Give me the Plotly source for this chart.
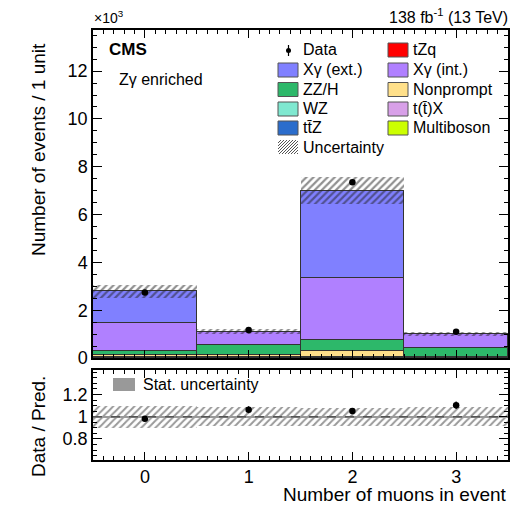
import plotly.graph_objects as go
import numpy as np

W, H = 518, 506
def px(x): return x / W
def py(y): return 1 - y / H

# ---- data (thousands of events) ----
bins = [0, 1, 2, 3]
multiboson = [0.004, 0.004, 0.01, 0.004]
ttx        = [0.004, 0.004, 0.01, 0.004]
tzq        = [0.002, 0.002, 0.005, 0.002]
ttz        = [0.004, 0.004, 0.01, 0.004]
wz         = [0.008, 0.008, 0.015, 0.008]
nonprompt  = [0.12, 0.12, 0.25, 0.015]
zzh        = [0.17, 0.39, 0.47, 0.37]
xg_int     = [1.16, 0.55, 2.58, 0.58]
xg_ext     = [1.32, 0.02, 3.65, 0.01]
data       = [2.74, 1.17, 7.35, 1.10]
unc_frac   = [0.10, 0.085, 0.08, 0.085]
stat_frac  = [0.006, 0.006, 0.006, 0.006]

components = [
    ("Multiboson", multiboson, "#CCFF00"),
    ("t(t̄)X", ttx, "#D8A0E8"),
    ("tZq", tzq, "#FF0000"),
    ("tt̄Z", ttz, "#2B6DCC"),
    ("WZ", wz, "#7FE8D0"),
    ("Nonprompt", nonprompt, "#FFE08A"),
    ("ZZ/H", zzh, "#2DB86A"),
    ("Xγ (int.)", xg_int, "#B080FF"),
    ("Xγ (ext.)", xg_ext, "#8080FF"),
]

total = np.sum([np.array(c[1]) for c in components], axis=0)
unc = total * np.array(unc_frac)
ratio = np.array(data) / total
data_err = np.sqrt(np.array(data) * 1000) / 1000
ratio_err = data_err / total

FONT = "Liberation Sans, Arial, sans-serif"
fig = go.Figure()

for name, vals, col in components:
    fig.add_trace(go.Bar(x=bins, y=vals, width=1, name=name,
                         marker=dict(color=col, line=dict(color="#333333", width=1)),
                         showlegend=False, xaxis="x", yaxis="y"))

# uncertainty hatch main
fig.add_trace(go.Bar(x=bins, y=2 * unc, base=total - unc, width=1,
                     marker=dict(color="rgba(0,0,0,0)", line=dict(width=0),
                                 pattern=dict(shape="/", fgcolor="#222222", bgcolor="rgba(0,0,0,0)",
                                              size=5, solidity=0.45, fillmode="overlay")),
                     showlegend=False, xaxis="x", yaxis="y"))

fig.add_trace(go.Scatter(x=bins, y=data, mode="markers",
                         marker=dict(color="black", size=6.5),
                         error_y=dict(type="data", array=data_err, color="black", thickness=1.2, width=0),
                         showlegend=False, xaxis="x", yaxis="y"))

# ratio panel
fig.add_trace(go.Bar(x=bins, y=2 * np.array(unc_frac), base=1 - np.array(unc_frac), width=1,
                     marker=dict(color="rgba(0,0,0,0)", line=dict(width=0),
                                 pattern=dict(shape="/", fgcolor="#333333", bgcolor="rgba(0,0,0,0)",
                                              size=5, solidity=0.4, fillmode="overlay")),
                     showlegend=False, xaxis="x2", yaxis="y2"))
fig.add_trace(go.Bar(x=bins, y=2 * np.array(stat_frac), base=1 - np.array(stat_frac), width=1,
                     marker=dict(color="#999999", line=dict(width=0)),
                     showlegend=False, xaxis="x2", yaxis="y2"))
fig.add_trace(go.Scatter(x=bins, y=ratio, mode="markers",
                         marker=dict(color="black", size=6.5),
                         error_y=dict(type="data", array=ratio_err, color="black", thickness=1.2, width=0),
                         showlegend=False, xaxis="x2", yaxis="y2"))

axis_common = dict(showline=True, mirror="allticks", linecolor="black", linewidth=1.5,
                   ticks="inside", tickcolor="black", showgrid=False, zeroline=False,
                   automargin=False,
                   tickfont=dict(family=FONT, size=18, color="black"))

fig.update_layout(
    width=W, height=H, margin=dict(l=0, r=0, t=0, b=0, autoexpand=False),
    paper_bgcolor="white", plot_bgcolor="white",
    barmode="stack", bargap=0,
    font=dict(family=FONT, color="black"),
    xaxis=dict(domain=[px(93), px(508)], range=[-0.5, 3.5], anchor="y",
               showticklabels=False, tickvals=bins, ticklen=8,
               minor=dict(dtick=0.1, tick0=0, ticklen=4, ticks="inside", tickcolor="black"),
               **axis_common),
    yaxis=dict(domain=[py(358), py(30)], range=[0, 13.72], anchor="x",
               tickvals=[0, 2, 4, 6, 8, 10, 12], ticklen=9,
               minor=dict(dtick=0.5, tick0=0, ticklen=4, ticks="inside", tickcolor="black"),
               **axis_common),
    xaxis2=dict(domain=[px(93), px(508)], range=[-0.5, 3.5], anchor="y2", matches="x",
                tickvals=bins, ticktext=["0", "1", "2", "3"], ticklen=8,
                minor=dict(dtick=0.1, tick0=0, ticklen=4, ticks="inside", tickcolor="black"),
                **axis_common),
    yaxis2=dict(domain=[py(460), py(370)], range=[0.61, 1.42], anchor="x2",
                tickvals=[0.8, 1.0, 1.2], ticktext=["0.8", "1", "1.2"], ticklen=9,
                minor=dict(dtick=0.05, tick0=0, ticklen=4, ticks="inside", tickcolor="black"),
                **axis_common),
)

shapes = []
annots = []

# dashed line at 1 in ratio
shapes.append(dict(type="line", xref="x2", yref="y2", x0=-0.5, x1=3.5, y0=1, y1=1,
                   line=dict(color="#555555", width=1.5, dash="dash")))

def txt(x, y, s, size=16, xanchor="left", yanchor="middle", angle=0):
    annots.append(dict(x=px(x), y=py(y), xref="paper", yref="paper", text=s, showarrow=False,
                       xanchor=xanchor, yanchor=yanchor, textangle=angle,
                       font=dict(family=FONT, size=size, color="black")))

# top texts
txt(92, 17, "×10<sup>3</sup>", size=14, xanchor="left")
txt(510, 16, "138 fb<sup>-1</sup> (13 TeV)", size=16, xanchor="right")
txt(107, 50, "<b>CMS</b>", size=17)
txt(117, 80, "Zγ enriched", size=16)

# axis titles
txt(38, 150, "Number of events / 1 unit", size=19, xanchor="center", angle=-90)
txt(38, 427, "Data / Pred.", size=19, xanchor="center", angle=-90)
txt(509, 494, "Number of muons in event", size=19, xanchor="right")

# legend
legend_items_c1 = [("Xγ (ext.)", "#8080FF", 70), ("ZZ/H", "#2DB86A", 89.5),
                   ("WZ", "#7FE8D0", 109), ("tt̄Z", "#2B6DCC", 128)]
legend_items_c2 = [("tZq", "#FF0000", 50), ("Xγ (int.)", "#B080FF", 70),
                   ("Nonprompt", "#FFE08A", 89.5), ("t(t̄)X", "#D8A0E8", 109),
                   ("Multiboson", "#CCFF00", 128)]
for lab, col, yc in legend_items_c1:
    shapes.append(dict(type="rect", xref="paper", yref="paper", x0=px(278), x1=px(298),
                       y0=py(yc + 7), y1=py(yc - 7), fillcolor=col, line=dict(color="#555555", width=1)))
    txt(301, yc, lab)
for lab, col, yc in legend_items_c2:
    shapes.append(dict(type="rect", xref="paper", yref="paper", x0=px(388), x1=px(408),
                       y0=py(yc + 7), y1=py(yc - 7), fillcolor=col, line=dict(color="#555555", width=1)))
    txt(411, yc, lab)

# data legend marker
shapes.append(dict(type="line", xref="paper", yref="paper", x0=px(288.5), x1=px(288.5),
                   y0=py(45), y1=py(56), line=dict(color="black", width=1.2)))
shapes.append(dict(type="circle", xref="paper", yref="paper", x0=px(286), x1=px(291),
                   y0=py(53), y1=py(48), fillcolor="black", line=dict(color="black", width=0)))
txt(301, 50, "Data")

# uncertainty legend hatch
bx0, bx1, by0, by1 = 278, 298, 140, 154
for k in range(-14, 22, 3):
    x0, y0 = bx0 + k, by1
    x1, y1 = bx0 + k + (by1 - by0), by0
    if x0 < bx0:
        y0 = y0 - (bx0 - x0); x0 = bx0
    if x1 > bx1:
        y1 = y1 + (x1 - bx1); x1 = bx1
    if x0 < x1:
        shapes.append(dict(type="line", xref="paper", yref="paper", x0=px(x0), x1=px(x1),
                           y0=py(y0), y1=py(y1), line=dict(color="#555555", width=1)))
txt(301, 147, "Uncertainty")

# ratio legend
shapes.append(dict(type="rect", xref="paper", yref="paper", x0=px(113), x1=px(135),
                   y0=py(391), y1=py(378), fillcolor="#999999", line=dict(color="#999999", width=0)))
txt(141, 384, "Stat. uncertainty")

fig.update_layout(shapes=shapes, annotations=annots)
fig.write_html("out.html")
